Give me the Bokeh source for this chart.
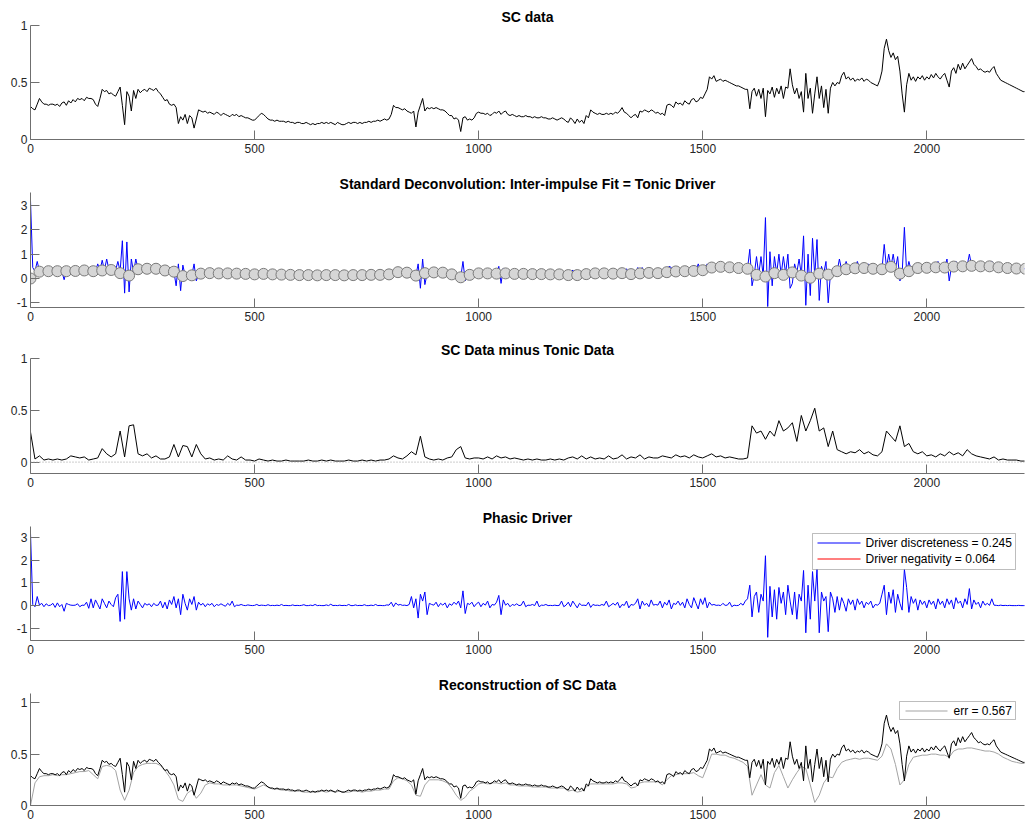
import numpy as np
from bokeh.plotting import figure
from bokeh.layouts import column
from bokeh.models import Range1d, FixedTicker, CustomJSTickFormatter, Span, BoxAnnotation, Label
from bokeh.embed import file_html
from bokeh.resources import INLINE

# ---------------- data ----------------
# SC data: one value every 5 samples (x = 0, 5, 10, ... 2220)
sc_data = [
    0.29, 0.27, 0.26, 0.31, 0.36, 0.33, 0.31, 0.31, 0.30, 0.31, 0.31, 0.30, 0.31, 0.29, 0.32, 0.33, 0.30, 0.34, 0.32, 0.35,
    0.33, 0.36, 0.35, 0.36, 0.34, 0.37, 0.36, 0.36, 0.35, 0.31, 0.29, 0.36, 0.44, 0.42, 0.43, 0.40, 0.41, 0.39, 0.38, 0.42,
    0.46, 0.30, 0.13, 0.42, 0.38, 0.25, 0.43, 0.36, 0.44, 0.41, 0.43, 0.44, 0.42, 0.45, 0.44, 0.43, 0.45, 0.42, 0.40, 0.37,
    0.34, 0.35, 0.31, 0.30, 0.31, 0.28, 0.14, 0.20, 0.17, 0.22, 0.14, 0.21, 0.19, 0.10, 0.18, 0.26, 0.25, 0.24, 0.25, 0.23,
    0.24, 0.23, 0.22, 0.24, 0.23, 0.21, 0.23, 0.22, 0.21, 0.20, 0.22, 0.21, 0.22, 0.20, 0.21, 0.20, 0.19, 0.19, 0.18, 0.17,
    0.17, 0.19, 0.21, 0.23, 0.22, 0.20, 0.18, 0.17, 0.17, 0.16, 0.17, 0.16, 0.16, 0.16, 0.15, 0.16, 0.15, 0.15, 0.14, 0.15,
    0.15, 0.14, 0.14, 0.15, 0.14, 0.13, 0.14, 0.13, 0.14, 0.14, 0.15, 0.14, 0.15, 0.14, 0.15, 0.14, 0.13, 0.15, 0.14, 0.13,
    0.13, 0.14, 0.15, 0.14, 0.15, 0.15, 0.14, 0.15, 0.14, 0.15, 0.15, 0.16, 0.15, 0.16, 0.16, 0.17, 0.16, 0.17, 0.18, 0.17,
    0.18, 0.22, 0.30, 0.28, 0.28, 0.27, 0.26, 0.27, 0.25, 0.24, 0.23, 0.25, 0.11, 0.24, 0.30, 0.36, 0.25, 0.28, 0.27, 0.28,
    0.27, 0.28, 0.27, 0.26, 0.26, 0.25, 0.23, 0.21, 0.21, 0.18, 0.19, 0.17, 0.07, 0.19, 0.20, 0.17, 0.18, 0.17, 0.19, 0.23,
    0.24, 0.23, 0.23, 0.22, 0.23, 0.21, 0.22, 0.24, 0.23, 0.25, 0.22, 0.24, 0.25, 0.22, 0.21, 0.22, 0.21, 0.20, 0.21, 0.20,
    0.20, 0.21, 0.20, 0.20, 0.19, 0.20, 0.19, 0.19, 0.20, 0.19, 0.19, 0.18, 0.18, 0.19, 0.18, 0.17, 0.18, 0.19, 0.18, 0.16,
    0.15, 0.19, 0.17, 0.14, 0.18, 0.15, 0.17, 0.14, 0.21, 0.19, 0.26, 0.24, 0.23, 0.22, 0.23, 0.22, 0.22, 0.23, 0.22, 0.23,
    0.22, 0.24, 0.23, 0.25, 0.28, 0.24, 0.23, 0.21, 0.19, 0.21, 0.22, 0.19, 0.25, 0.24, 0.26, 0.25, 0.24, 0.26, 0.25, 0.23,
    0.24, 0.22, 0.23, 0.21, 0.30, 0.31, 0.30, 0.28, 0.33, 0.31, 0.32, 0.30, 0.34, 0.32, 0.31, 0.35, 0.36, 0.33, 0.34, 0.37,
    0.36, 0.40, 0.44, 0.55, 0.53, 0.56, 0.51, 0.52, 0.53, 0.51, 0.52, 0.51, 0.50, 0.49, 0.48, 0.47, 0.47, 0.46, 0.45, 0.44,
    0.44, 0.27, 0.42, 0.45, 0.38, 0.44, 0.36, 0.45, 0.20, 0.43, 0.40, 0.46, 0.37, 0.45, 0.40, 0.47, 0.36, 0.46, 0.45, 0.62,
    0.48, 0.40, 0.45, 0.36, 0.42, 0.24, 0.58, 0.36, 0.45, 0.23, 0.40, 0.55, 0.36, 0.47, 0.28, 0.44, 0.23, 0.45, 0.50, 0.47,
    0.50, 0.49, 0.56, 0.59, 0.53, 0.55, 0.52, 0.54, 0.51, 0.53, 0.52, 0.54, 0.51, 0.53, 0.52, 0.50, 0.49, 0.48, 0.47, 0.52,
    0.60, 0.80, 0.88, 0.78, 0.72, 0.76, 0.70, 0.73, 0.60, 0.40, 0.24, 0.48, 0.58, 0.52, 0.55, 0.51, 0.55, 0.53, 0.56, 0.52,
    0.55, 0.53, 0.57, 0.54, 0.58, 0.55, 0.53, 0.56, 0.58, 0.52, 0.46, 0.60, 0.63, 0.58, 0.66, 0.61, 0.67, 0.62, 0.65, 0.68,
    0.71, 0.66, 0.64, 0.61, 0.62, 0.60, 0.59, 0.60, 0.59, 0.62, 0.64, 0.58, 0.55, 0.52, 0.51, 0.50, 0.49, 0.48, 0.47, 0.46,
    0.45, 0.44, 0.43, 0.42, 0.42,
]

# Tonic driver fit points: one value every 20 samples
tonic_fit = [
    0.00, 0.28, 0.30, 0.30, 0.30, 0.31, 0.33, 0.30, 0.33, 0.35,
    0.22, 0.12, 0.38, 0.40, 0.40, 0.33, 0.28, 0.10, 0.13, 0.20,
    0.22, 0.21, 0.21, 0.20, 0.19, 0.17, 0.19, 0.17, 0.16, 0.15,
    0.14, 0.14, 0.13, 0.14, 0.14, 0.13, 0.14, 0.14, 0.15, 0.15,
    0.17, 0.26, 0.24, 0.12, 0.22, 0.25, 0.24, 0.17, 0.05, 0.15,
    0.21, 0.21, 0.20, 0.21, 0.19, 0.19, 0.18, 0.18, 0.17, 0.17,
    0.14, 0.14, 0.18, 0.21, 0.21, 0.20, 0.22, 0.18, 0.21, 0.23,
    0.22, 0.26, 0.29, 0.30, 0.31, 0.34, 0.45, 0.48, 0.46, 0.43,
    0.40, 0.15, 0.08, 0.22, 0.15, 0.25, 0.12, 0.03, 0.20, 0.16,
    0.30, 0.38, 0.42, 0.43, 0.40, 0.38, 0.48, 0.20, 0.30, 0.43,
    0.44, 0.46, 0.45, 0.49, 0.50, 0.52, 0.50, 0.50, 0.46, 0.43,
    0.41, 0.40,
]

# Driver (standard deconvolution): one value every 5 samples
driver = [
    3.20, 0.45, 0.30, 0.70, 0.30, 0.31, 0.30, 0.32, 0.30, 0.31, 0.30, 0.32, 0.30, 0.31, 0.30, -0.05, 0.30, 0.31, 0.32, 0.31,
    0.32, 0.33, 0.32, 0.33, 0.34, 0.33, 0.32, 0.33, 0.31, 0.30, 0.60, 0.32, 0.75, 0.34, 0.80, 0.36, 0.35, 0.36, 0.35, 0.70,
    0.30, 1.55, -0.60, 1.50, -0.55, 0.80, 0.25, 0.80, 0.38, 0.39, 0.40, 0.40, 0.40, 0.41, 0.40, 0.40, 0.40, 0.39, 0.37, 0.35,
    0.34, 0.32, 0.30, 0.29, 0.28, -0.30, 0.60, -0.50, 0.55, 0.12, 0.12, 0.13, 0.14, 0.60, -0.10, 0.18, 0.20, 0.21, 0.21, 0.22,
    0.22, 0.22, 0.21, 0.22, 0.21, 0.21, 0.35, 0.21, 0.21, 0.20, 0.20, 0.20, 0.30, 0.20, 0.19, 0.19, 0.19, 0.18, 0.18, 0.17,
    0.17, 0.18, 0.18, 0.19, 0.19, 0.18, 0.18, 0.17, 0.17, 0.16, 0.16, 0.16, 0.16, 0.15, 0.15, 0.15, 0.15, 0.15, 0.15, 0.14,
    0.14, 0.14, 0.14, 0.14, 0.13, 0.13, 0.13, 0.13, 0.13, 0.14, 0.14, 0.14, 0.14, 0.14, 0.14, 0.14, 0.14, 0.14, 0.13, 0.13,
    0.13, 0.13, 0.14, 0.14, 0.14, 0.14, 0.14, 0.14, 0.14, 0.14, 0.15, 0.15, 0.15, 0.15, 0.15, 0.15, 0.15, 0.15, 0.16, 0.16,
    0.17, 0.20, 0.24, 0.26, 0.26, 0.25, 0.25, 0.24, 0.24, 0.20, 0.16, 0.13, 0.12, 0.60, -0.40, 0.80, -0.25, 0.20, 0.22, 0.24,
    0.25, 0.30, 0.25, 0.24, 0.24, 0.23, 0.21, 0.19, 0.17, 0.14, 0.10, 0.07, 0.05, 0.70, -0.10, 0.10, 0.15, 0.17, 0.19, 0.20,
    0.30, 0.21, 0.21, 0.21, 0.21, 0.20, 0.20, 0.20, 0.20, 0.50, -0.20, 0.40, 0.21, 0.21, 0.20, 0.20, 0.19, 0.19, 0.19, 0.19,
    0.19, 0.19, 0.18, 0.18, 0.18, 0.18, 0.18, 0.18, 0.18, 0.18, 0.17, 0.17, 0.17, 0.17, 0.17, 0.17, 0.17, 0.16, 0.16, 0.15,
    0.14, 0.14, 0.35, 0.14, 0.14, 0.15, 0.16, 0.17, 0.35, 0.19, 0.21, 0.21, 0.21, 0.21, 0.21, 0.21, 0.21, 0.21, 0.20, 0.20,
    0.20, 0.21, 0.21, 0.22, 0.22, 0.22, 0.40, 0.20, 0.18, 0.18, 0.19, 0.45, 0.21, 0.45, 0.22, 0.23, 0.23, 0.23, 0.22, 0.22,
    0.22, 0.23, 0.24, 0.25, 0.26, 0.50, 0.45, 0.28, 0.29, 0.29, 0.30, 0.30, 0.30, 0.31, 0.31, 0.31, 0.55, 0.32, 0.60, 0.33,
    0.34, 0.38, 0.60, 0.44, 0.45, 0.47, 0.48, 0.48, 0.48, 0.47, 0.47, 0.46, 0.46, 0.45, 0.44, 0.44, 0.43, 0.42, 0.42, 0.41,
    0.40, 1.20, -0.30, 0.15, 0.90, 0.15, 0.90, 0.10, 2.50, -1.15, 1.10, -0.30, 0.90, 0.20, 1.00, 0.15, 0.90, 0.20, 1.00, -0.40,
    -0.20, 0.60, 0.25, 0.80, 0.15, 1.75, -1.10, 1.00, -0.70, 1.65, 0.10, 1.60, -0.90, 0.50, 0.20, 0.70, -1.00, 0.20, 0.25, 0.30,
    0.30, 0.80, 0.35, 0.40, 0.70, 0.38, 0.40, 0.41, 0.42, 0.70, 0.42, 0.43, 0.60, 0.43, 0.60, 0.42, 0.40, 0.40, 0.39, 0.38,
    0.38, 1.40, 0.45, 1.00, 0.48, 1.00, 0.40, 0.90, -0.10, 0.20, 2.10, 0.25, 0.70, 0.35, 0.40, 0.60, 0.43, 0.43, 0.44, 0.44,
    0.44, 0.45, 0.45, 0.46, 0.46, 0.70, 0.46, 0.45, 0.45, 0.80, -0.10, 0.47, 0.49, 0.70, 0.50, 0.50, 0.50, 0.51, 0.52, 1.00,
    0.52, 0.52, 0.51, 0.50, 0.50, 0.50, 0.50, 0.50, 0.50, 0.70, 0.49, 0.48, 0.46, 0.45, 0.44, 0.44, 0.43, 0.42, 0.42, 0.41,
    0.41, 0.41, 0.40, 0.40, 0.40,
]

# SC data minus tonic data: one value every 10 samples
sc_minus_tonic = [
    0.29, 0.03, 0.06, 0.02, 0.03, 0.02, 0.03, 0.02, 0.03, 0.06,
    0.05, 0.04, 0.05, 0.02, 0.03, 0.04, 0.13, 0.08, 0.05, 0.08,
    0.30, 0.05, 0.35, 0.36, 0.08, 0.06, 0.08, 0.04, 0.06, 0.03,
    0.03, 0.05, 0.17, 0.05, 0.16, 0.15, 0.05, 0.17, 0.08, 0.03,
    0.04, 0.02, 0.03, 0.02, 0.06, 0.03, 0.02, 0.05, 0.02, 0.02,
    0.01, 0.03, 0.02, 0.01, 0.02, 0.01, 0.01, 0.02, 0.01, 0.01,
    0.01, 0.01, 0.02, 0.01, 0.01, 0.02, 0.01, 0.02, 0.01, 0.01,
    0.01, 0.02, 0.01, 0.01, 0.02, 0.01, 0.02, 0.01, 0.02, 0.02,
    0.03, 0.06, 0.04, 0.03, 0.06, 0.10, 0.07, 0.25, 0.05, 0.03,
    0.02, 0.03, 0.02, 0.04, 0.05, 0.12, 0.15, 0.04, 0.03, 0.04,
    0.04, 0.03, 0.05, 0.03, 0.06, 0.04, 0.05, 0.03, 0.04, 0.03,
    0.02, 0.03, 0.02, 0.03, 0.02, 0.02, 0.03, 0.02, 0.03, 0.02,
    0.04, 0.05, 0.03, 0.06, 0.03, 0.05, 0.03, 0.04, 0.03, 0.06,
    0.03, 0.04, 0.07, 0.03, 0.05, 0.04, 0.07, 0.03, 0.05, 0.04,
    0.04, 0.06, 0.05, 0.04, 0.07, 0.05, 0.06, 0.04, 0.07, 0.05,
    0.04, 0.06, 0.08, 0.05, 0.06, 0.04, 0.05, 0.04, 0.03, 0.03,
    0.04, 0.35, 0.28, 0.30, 0.22, 0.30, 0.25, 0.40, 0.30, 0.33,
    0.38, 0.20, 0.45, 0.30, 0.40, 0.52, 0.30, 0.33, 0.15, 0.30,
    0.12, 0.10, 0.08, 0.10, 0.09, 0.12, 0.08, 0.10, 0.07, 0.06,
    0.10, 0.30, 0.25, 0.20, 0.35, 0.15, 0.18, 0.10, 0.08, 0.10,
    0.06, 0.07, 0.05, 0.08, 0.06, 0.10, 0.07, 0.09, 0.06, 0.12,
    0.08, 0.06, 0.05, 0.04, 0.03, 0.05, 0.02, 0.03, 0.02, 0.02,
    0.02, 0.01, 0.01,
]

# Phasic driver: one value every 5 samples
phasic_driver = [
    3.20, 0.05, -0.05, 0.40, 0.02, 0.10, -0.05, 0.08, 0.00, 0.02, 0.10, -0.08, 0.12, -0.05, 0.05, -0.25, 0.10, 0.05, 0.02, 0.01,
    0.02, 0.08, -0.05, 0.02, 0.01, 0.15, -0.12, 0.30, -0.10, 0.25, 0.05, -0.15, 0.30, 0.10, -0.10, 0.20, 0.05, -0.05, 0.35, 0.50,
    -0.70, 1.50, -0.60, 1.50, 0.30, -0.20, 0.30, -0.15, 0.20, 0.05, -0.10, 0.10, 0.02, 0.08, -0.05, 0.10, 0.01, 0.02, 0.20, -0.10,
    0.15, -0.15, 0.25, 0.05, 0.40, -0.10, 0.30, -0.40, 0.50, 0.10, -0.20, 0.30, 0.05, 0.40, -0.20, 0.15, 0.02, 0.10, -0.05, 0.08,
    0.02, 0.10, -0.05, 0.05, 0.01, 0.08, 0.02, -0.03, 0.10, 0.01, 0.20, -0.05, 0.02, 0.01, 0.05, 0.01, 0.00, 0.03, 0.01, 0.00,
    0.01, 0.05, 0.00, 0.02, 0.01, 0.00, 0.04, 0.00, 0.01, 0.00, 0.02, 0.00, 0.05, 0.00, 0.01, 0.00, 0.00, 0.03, 0.00, 0.01,
    0.00, 0.01, 0.04, 0.00, 0.00, 0.02, 0.00, 0.05, 0.00, 0.01, 0.00, 0.00, 0.03, 0.00, 0.06, 0.00, 0.01, 0.00, 0.02, 0.00,
    0.01, 0.00, 0.05, 0.00, 0.00, 0.03, 0.00, 0.01, 0.00, 0.04, 0.00, 0.00, 0.02, 0.00, 0.05, 0.00, 0.01, 0.00, 0.00, 0.03,
    0.02, 0.15, -0.05, 0.12, 0.02, 0.05, 0.01, 0.02, 0.00, 0.05, 0.40, -0.10, 0.30, -0.55, 0.50, 0.20, 0.60, -0.40, 0.10, 0.05,
    0.02, 0.15, -0.05, 0.10, 0.02, 0.12, -0.10, 0.08, 0.01, 0.15, 0.05, 0.20, -0.10, 0.65, -0.35, 0.10, 0.05, 0.15, -0.05, 0.08,
    0.15, -0.05, 0.10, 0.02, 0.20, -0.10, 0.05, 0.02, 0.15, 0.45, -0.40, 0.25, 0.02, 0.10, -0.05, 0.05, 0.01, 0.08, 0.00, 0.02,
    0.20, -0.05, 0.02, 0.01, 0.05, 0.00, 0.20, -0.05, 0.02, 0.01, 0.05, 0.00, 0.01, 0.00, 0.02, 0.00, 0.01, 0.20, -0.05, 0.02,
    0.15, -0.05, 0.20, 0.05, -0.10, 0.10, 0.01, 0.02, 0.00, 0.15, -0.08, 0.05, 0.01, 0.02, 0.00, 0.05, 0.01, 0.20, -0.05, 0.02,
    0.10, 0.02, 0.15, -0.10, 0.05, 0.01, 0.20, -0.10, 0.05, 0.02, 0.10, 0.30, -0.15, 0.20, 0.02, 0.10, -0.05, 0.25, 0.02, 0.05,
    0.02, 0.20, -0.10, 0.15, 0.02, 0.25, -0.15, 0.10, 0.05, 0.20, 0.01, 0.15, -0.10, 0.30, 0.05, -0.10, 0.35, 0.10, -0.15, 0.30,
    0.05, 0.35, -0.10, 0.15, 0.02, 0.05, 0.01, 0.02, 0.00, 0.10, 0.01, 0.02, 0.15, -0.05, 0.02, 0.00, 0.01, 0.10, 0.02, 0.20,
    0.30, 0.90, -0.50, 0.40, 0.60, -0.30, 0.50, 0.20, 2.20, -1.40, 0.85, -0.50, 0.70, -0.60, 0.80, 0.10, 0.60, -0.40, 0.90, 0.20,
    -0.40, 0.60, -0.60, 0.50, 0.20, 1.55, -1.20, 0.90, -0.60, 1.50, 0.20, 1.60, -1.20, 0.60, 0.20, 0.40, -1.15, 0.60, 0.30, -0.30,
    0.40, -0.20, 0.35, 0.10, -0.25, 0.30, 0.05, 0.25, -0.20, 0.30, 0.05, 0.20, -0.10, 0.15, 0.05, 0.20, -0.10, 0.05, 0.02, 0.10,
    0.50, 0.90, -0.40, 0.60, 0.10, 0.70, -0.30, 0.50, 0.10, -0.20, 1.60, 0.80, -0.30, 0.40, 0.10, 0.30, -0.20, 0.25, 0.05, 0.20,
    -0.10, 0.25, 0.05, 0.20, -0.15, 0.30, 0.05, 0.20, -0.10, 0.30, 0.05, 0.25, -0.15, 0.35, 0.10, 0.20, -0.10, 0.30, 0.05, 0.75,
    -0.15, 0.25, 0.05, 0.15, -0.10, 0.20, 0.02, 0.10, 0.01, 0.30, 0.02, 0.01, 0.00, 0.02, 0.00, 0.01, 0.00, 0.01, 0.00, 0.00,
    0.00, 0.01, 0.00, 0.00, 0.00,
]

# Reconstruction of SC data: one value every 10 samples
reconstruction = [
    0.00, 0.22, 0.28, 0.29, 0.29, 0.30, 0.29, 0.30, 0.30, 0.31,
    0.32, 0.33, 0.33, 0.34, 0.30, 0.26, 0.38, 0.39, 0.38, 0.34,
    0.15, 0.05, 0.15, 0.32, 0.38, 0.40, 0.41, 0.41, 0.41, 0.39,
    0.34, 0.28, 0.20, 0.06, 0.04, 0.12, 0.15, 0.07, 0.12, 0.20,
    0.22, 0.21, 0.21, 0.20, 0.20, 0.20, 0.20, 0.19, 0.18, 0.17,
    0.16, 0.18, 0.20, 0.18, 0.16, 0.16, 0.15, 0.15, 0.14, 0.14,
    0.14, 0.13, 0.13, 0.13, 0.13, 0.14, 0.13, 0.14, 0.13, 0.14,
    0.13, 0.13, 0.14, 0.14, 0.13, 0.14, 0.14, 0.15, 0.15, 0.16,
    0.16, 0.24, 0.27, 0.26, 0.24, 0.20, 0.10, 0.09, 0.20, 0.25,
    0.25, 0.25, 0.24, 0.22, 0.17, 0.10, 0.05, 0.08, 0.14, 0.17,
    0.21, 0.22, 0.21, 0.22, 0.22, 0.21, 0.22, 0.20, 0.20, 0.19,
    0.19, 0.19, 0.18, 0.18, 0.18, 0.18, 0.17, 0.17, 0.17, 0.17,
    0.14, 0.15, 0.13, 0.14, 0.18, 0.21, 0.21, 0.21, 0.21, 0.21,
    0.21, 0.22, 0.22, 0.21, 0.17, 0.18, 0.22, 0.23, 0.23, 0.23,
    0.23, 0.20, 0.25, 0.29, 0.30, 0.31, 0.31, 0.31, 0.32, 0.29,
    0.27, 0.38, 0.50, 0.50, 0.49, 0.49, 0.47, 0.46, 0.44, 0.42,
    0.38, 0.10, 0.20, 0.30, 0.20, 0.17, 0.32, 0.39, 0.28, 0.17,
    0.25, 0.32, 0.38, 0.36, 0.20, 0.03, 0.10, 0.22, 0.28, 0.27,
    0.36, 0.42, 0.44, 0.45, 0.46, 0.45, 0.46, 0.46, 0.45, 0.44,
    0.48, 0.60, 0.55, 0.40, 0.20, 0.25, 0.40, 0.47, 0.48, 0.49,
    0.49, 0.50, 0.50, 0.49, 0.49, 0.47, 0.53, 0.55, 0.55, 0.56,
    0.56, 0.55, 0.54, 0.53, 0.53, 0.52, 0.50, 0.47, 0.45, 0.43,
    0.42, 0.41, 0.41,
]

titles = ["SC data",
          "Standard Deconvolution: Inter-impulse Fit = Tonic Driver",
          "SC Data minus Tonic Data",
          "Phasic Driver",
          "Reconstruction of SC Data"]
x_ticks = [0, 500, 1000, 1500, 2000]
discreteness = 0.245
negativity = 0.064
err = 0.567

FINE_STEP = 5
COARSE_STEP = 10
TONIC_STEP = 20

BLUE = "#0000ff"
RED = "#ff0000"
GRAY_LINE = "#a3a3a3"


def xs(values, step):
    return np.arange(len(values)) * step


FONT = "Liberation Sans"
AXIS_COLOR = "#6f6f6f"
LABEL_COLOR = "#262626"


def make_panel(title, ymin, ymax, yticks, top, frame_h, bottom):
    p = figure(width=1025, height=top + frame_h + bottom,
               x_range=Range1d(0, 2218), y_range=Range1d(ymin, ymax),
               output_backend="svg", toolbar_location=None,
               min_border_left=30, min_border_right=1,
               min_border_top=top, min_border_bottom=bottom, title=title)
    p.outline_line_color = None
    p.grid.visible = False
    p.title.align = "center"
    p.title.text_font = FONT
    p.title.text_font_size = "14px"
    p.title.text_font_style = "bold"
    p.title.text_color = "#000000"
    p.title.standoff = 2
    for ax, ticks in ((p.xaxis[0], x_ticks), (p.yaxis[0], yticks)):
        ax.ticker = FixedTicker(ticks=ticks, minor_ticks=[])
        ax.formatter = CustomJSTickFormatter(code="return String(tick)")
        ax.major_tick_in = 9
        ax.major_tick_out = 0
        ax.minor_tick_line_color = None
        ax.axis_line_color = AXIS_COLOR
        ax.major_tick_line_color = AXIS_COLOR
        ax.major_label_text_font = FONT
        ax.major_label_text_font_size = "12px"
        ax.major_label_text_color = LABEL_COLOR
    p.xaxis.major_label_standoff = 4
    p.yaxis.major_label_standoff = 3
    return p


def add_legend(p, box, entries):
    """box = (left, right, top, bottom) in screen px from the frame's bottom-left;
    entries = list of (label, colour, y, line_left, line_right, text_x)."""
    left, right, top, bottom = box
    p.add_layout(BoxAnnotation(left=left, right=right, top=top, bottom=bottom,
                               left_units="screen", right_units="screen",
                               top_units="screen", bottom_units="screen",
                               fill_color="white", fill_alpha=1,
                               line_color="#262626", line_width=1))
    for label, colour, y, l0, l1, tx in entries:
        p.add_layout(BoxAnnotation(left=l0, right=l1, top=y + 0.5, bottom=y - 0.5,
                                   left_units="screen", right_units="screen",
                                   top_units="screen", bottom_units="screen",
                                   fill_color=colour, fill_alpha=1, line_color=None))
        p.add_layout(Label(x=tx, y=y, x_units="screen", y_units="screen", text=label,
                           text_font=FONT, text_font_size="12px", text_color="#000000",
                           text_baseline="middle", text_align="left"))


# Panel 1: SC data
p1 = make_panel(titles[0], 0, 1, [0, 0.5, 1], 25, 114, 26)
p1.line(xs(sc_data, FINE_STEP), sc_data, line_color="black", line_width=1)

# Panel 2: driver with tonic fit points
p2 = make_panel(titles[1], -1.19, 3.53, [-1, 0, 1, 2, 3], 27, 115, 25)
p2.line(xs(driver, FINE_STEP), driver, line_color=BLUE, line_width=1)
p2.scatter(xs(tonic_fit, TONIC_STEP), tonic_fit, size=11, marker="circle",
           fill_color="#d6d6d6", line_color="#7a7a7a", line_width=1)

# Panel 3: SC minus tonic
p3 = make_panel(titles[2], -0.11, 1.0, [0, 0.5, 1], 26, 115, 27)
p3.add_layout(Span(location=0, dimension="width", line_color="#9a9a9a",
                   line_dash="1 2", line_width=1))
p3.line(xs(sc_minus_tonic, COARSE_STEP), sc_minus_tonic, line_color="black", line_width=1)

# Panel 4: phasic driver
p4 = make_panel(titles[3], -1.54, 3.49, [-1, 0, 1, 2, 3], 26, 114, 27)
p4.line(xs(phasic_driver, FINE_STEP), phasic_driver, line_color=BLUE, line_width=1)
add_legend(p4, (782, 985, 107, 71),
           [(f"Driver discreteness = {discreteness:.3f}", BLUE, 97.5, 787, 830, 835),
            (f"Driver negativity = {negativity:.3f}", RED, 81.5, 787, 830, 835)])

# Panel 5: reconstruction
p5 = make_panel(titles[4], 0, 1.09, [0, 0.5, 1], 26, 112, 20)
p5.line(xs(reconstruction, COARSE_STEP), reconstruction, line_color=GRAY_LINE, line_width=1)
p5.line(xs(sc_data, FINE_STEP), sc_data, line_color="black", line_width=1)
add_legend(p5, (869, 985, 104, 86),
           [(f"err = {err:.3f}", GRAY_LINE, 94.5, 875, 917, 923)])

layout = column(p1, p2, p3, p4, p5, spacing=0)
open("out.html", "w").write(file_html(layout, INLINE))
